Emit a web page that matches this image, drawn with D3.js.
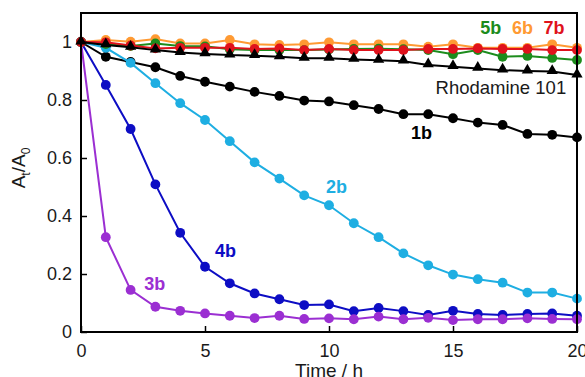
<!DOCTYPE html>
<html>
<head>
<meta charset="utf-8">
<script src="https://cdn.jsdelivr.net/npm/d3@7"></script>
<style>
  body { margin: 0; background: #fff; }
  svg text { font-family: "Liberation Sans", Arial, sans-serif; }
</style>
</head>
<body>
<div id="chart"></div>
<script>
// ... data (A_t / A_0 against time in hours)
const times = d3.range(0, 21);

const s3b = [1, 0.327, 0.145, 0.087, 0.073, 0.064, 0.056, 0.048, 0.056, 0.045, 0.047,
  0.044, 0.053, 0.044, 0.049, 0.041, 0.044, 0.044, 0.047, 0.045, 0.044];
const s4b = [1, 0.852, 0.70, 0.509, 0.342, 0.225, 0.168, 0.133, 0.113, 0.093, 0.095,
  0.072, 0.083, 0.072, 0.059, 0.073, 0.062, 0.059, 0.062, 0.064, 0.056];
const s2b = [1, 0.98, 0.928, 0.858, 0.789, 0.731, 0.658, 0.585, 0.529, 0.471, 0.437,
  0.375, 0.327, 0.271, 0.230, 0.198, 0.182, 0.170, 0.136, 0.136, 0.115];
const s1b = [1, 0.949, 0.931, 0.913, 0.883, 0.863, 0.846, 0.828, 0.814, 0.798, 0.795,
  0.782, 0.769, 0.751, 0.751, 0.737, 0.722, 0.714, 0.683, 0.680, 0.671];
const s5b = [1, 0.993, 0.986, 0.995, 0.986, 0.985, 0.975, 0.972, 0.972, 0.972, 0.974,
  0.976, 0.977, 0.975, 0.972, 0.958, 0.972, 0.949, 0.952, 0.945, 0.938];
const s6b = [1, 1.007, 1.001, 1.010, 0.995, 0.995, 1.007, 0.992, 0.990, 0.992, 0.999,
  0.992, 0.992, 0.992, 0.984, 0.992, 0.980, 0.980, 0.980, 0.992, 0.980];
const s7b = [1, 0.999, 0.988, 0.978, 0.980, 0.980, 0.980, 0.976, 0.978, 0.972, 0.976,
  0.972, 0.972, 0.972, 0.976, 0.976, 0.978, 0.976, 0.976, 0.972, 0.972];
const rhodamine = [1, 0.990, 0.982, 0.972, 0.964, 0.959, 0.955, 0.953, 0.949, 0.944, 0.944,
  0.940, 0.937, 0.934, 0.921, 0.915, 0.909, 0.903, 0.900, 0.898, 0.886];

const xTicks = [0, 5, 10, 15, 20];
const yTicks = [0, 0.2, 0.4, 0.6, 0.8, 1];

// drawing order: bottom first
const series = [
  { name: '1b', values: s1b, color: '#000000', marker: 'circle' },
  { name: '2b', values: s2b, color: '#1eaee2', marker: 'circle' },
  { name: '4b', values: s4b, color: '#0d0dc4', marker: 'circle' },
  { name: '3b', values: s3b, color: '#9b2fd2', marker: 'circle' },
  { name: '6b', values: s6b, color: '#ff9a33', marker: 'circle' },
  { name: '5b', values: s5b, color: '#1c8c1c', marker: 'circle' },
  { name: '7b', values: s7b, color: '#e0121c', marker: 'circle' },
  { name: 'Rhodamine 101', values: rhodamine, color: '#000000', marker: 'triangle' }
];

const W = 585, H = 377;
const margin = { top: 13, right: 8, bottom: 45, left: 81 };
const width = W - margin.left - margin.right;
const height = H - margin.top - margin.bottom;

const x = d3.scaleLinear().domain([0, 20]).range([0, width]);
const y = d3.scaleLinear().domain([0, 1.1]).range([height, 0]);

const svg = d3.select('#chart').append('svg')
  .attr('width', W)
  .attr('height', H)
  .append('g')
  .attr('transform', 'translate(' + margin.left + ',' + margin.top + ')');

// ... series lines and markers
const line = d3.line()
  .x((d, i) => x(times[i]))
  .y(d => y(d));

const tri = d3.symbol().type(d3.symbolTriangle).size(55);

series.forEach(s => {
  const g = svg.append('g');
  g.append('path')
    .datum(s.values)
    .attr('fill', 'none')
    .attr('stroke', s.color)
    .attr('stroke-width', 2)
    .attr('d', line);
  if (s.marker === 'circle') {
    g.selectAll('circle')
      .data(s.values)
      .enter().append('circle')
      .attr('cx', (d, i) => x(times[i]))
      .attr('cy', d => y(d))
      .attr('r', 4.9)
      .attr('fill', s.color);
  } else {
    g.selectAll('path.tri')
      .data(s.values)
      .enter().append('path')
      .attr('class', 'tri')
      .attr('transform', (d, i) => 'translate(' + x(times[i]) + ',' + (y(d) - 0.8) + ')')
      .attr('d', tri)
      .attr('fill', s.color);
  }
});

// ... axes with inward ticks
const xAxis = svg.append('g')
  .attr('transform', 'translate(0,' + height + ')')
  .call(d3.axisBottom(x).tickValues(xTicks).tickSize(-6).tickPadding(12).tickFormat(d3.format('d')));

const yAxis = svg.append('g')
  .call(d3.axisLeft(y).tickValues(yTicks).tickSize(-6).tickPadding(9).tickFormat(d => d === 0 || d === 1 ? d : d.toFixed(1)));

[xAxis, yAxis].forEach(a => {
  a.select('.domain').remove();
  a.selectAll('line').attr('stroke', '#000').attr('stroke-width', 1.5);
  a.selectAll('text')
    .attr('fill', '#1a1a1a')
    .style('font-size', '18px');
});

// ... frame
svg.append('rect')
  .attr('x', 0)
  .attr('y', 0)
  .attr('width', width)
  .attr('height', height)
  .attr('fill', 'none')
  .attr('stroke', '#000')
  .attr('stroke-width', 2);

// ... axis titles
svg.append('text')
  .attr('x', width / 2)
  .attr('y', height + 45)
  .attr('text-anchor', 'middle')
  .style('font-size', '19px')
  .attr('fill', '#1a1a1a')
  .text('Time / h');

const yt = svg.append('text')
  .attr('transform', 'translate(' + (25 - margin.left) + ',' + (168 - margin.top) + ') rotate(-90)')
  .attr('text-anchor', 'middle')
  .style('font-size', '19px')
  .attr('fill', '#1a1a1a');
yt.append('tspan').text('A');
yt.append('tspan').attr('dy', 5).style('font-size', '12px').text('t');
yt.append('tspan').attr('dy', -5).text('/A');
yt.append('tspan').attr('dy', 5).style('font-size', '12px').text('0');

// ... series labels
const labels = [
  { text: '5b', t: 16.52, v: 1.028, color: '#1c8c1c', bold: true },
  { text: '6b', t: 17.8, v: 1.028, color: '#ff9a33', bold: true },
  { text: '7b', t: 19.07, v: 1.028, color: '#e0121c', bold: true },
  { text: 'Rhodamine 101', t: 16.93, v: 0.82, color: '#1a1a1a', bold: false },
  { text: '1b', t: 13.73, v: 0.665, color: '#000000', bold: true },
  { text: '2b', t: 10.3, v: 0.478, color: '#1eaee2', bold: true },
  { text: '4b', t: 5.83, v: 0.258, color: '#0d0dc4', bold: true },
  { text: '3b', t: 2.97, v: 0.145, color: '#9b2fd2', bold: true }
];

svg.selectAll('text.lbl')
  .data(labels)
  .enter().append('text')
  .attr('class', 'lbl')
  .attr('x', d => x(d.t))
  .attr('y', d => y(d.v))
  .attr('text-anchor', 'middle')
  .attr('fill', d => d.color)
  .style('font-size', d => d.bold ? '18px' : '18.5px')
  .style('font-weight', d => d.bold ? 'bold' : 'normal')
  .text(d => d.text);
</script>
</body>
</html>
